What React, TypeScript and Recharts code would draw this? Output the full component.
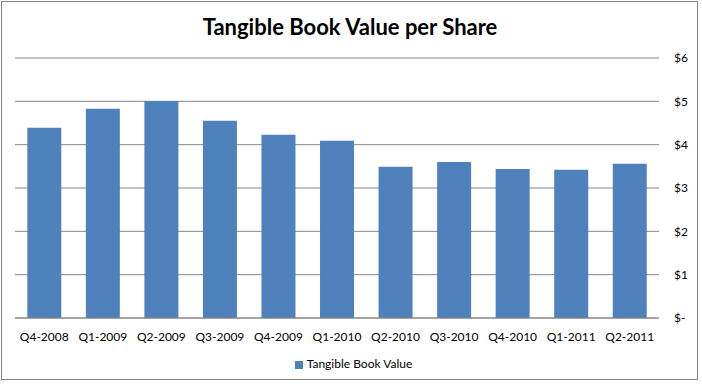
import { Bar, BarChart, CartesianGrid, Legend, XAxis, YAxis } from "recharts";

const quarters = ["Q4-2008", "Q1-2009", "Q2-2009", "Q3-2009", "Q4-2009", "Q1-2010", "Q2-2010", "Q3-2010", "Q4-2010", "Q1-2011", "Q2-2011"];
const tangibleBookValue = [4.39, 4.83, 5.01, 4.55, 4.23, 4.09, 3.49, 3.6, 3.44, 3.42, 3.56];
const yTicks = [0, 1, 2, 3, 4, 5, 6];

const FONT = "Lato, 'Liberation Sans', sans-serif";

export default function App() {
  const data = quarters.map((q, i) => ({ quarter: q, value: tangibleBookValue[i] }));

  return (
    <div style={{ position: "fixed", left: 0, top: 0, width: 702, height: 387, background: "#fff", fontFamily: FONT }}>
      {/* chart frame like the Excel object border */}
      <div style={{ position: "absolute", left: 1, top: 1, width: 697, height: 379, border: "1px solid #868686", boxSizing: "border-box" }} />
      <div style={{ position: "absolute", left: 0, top: 13, width: 700, textAlign: "center", fontSize: 22, fontWeight: 700, color: "#000" }}>
        Tangible Book Value per Share
      </div>
      <BarChart
        width={702}
        height={387}
        data={data}
        margin={{ top: 58, right: 0, left: 15, bottom: 0 }}
        barCategoryGap="21%"
        style={{ position: "absolute", left: 0, top: 0 }}
      >
        <CartesianGrid vertical={false} stroke="#868686" strokeWidth={1} />
        <XAxis
          dataKey="quarter"
          height={30}
          axisLine={{ stroke: "#868686" }}
          tickLine={false}
          tick={{ fill: "#000", fontSize: 12, fontFamily: FONT }}
          interval={0}
          dy={6}
        />
        <YAxis
          orientation="right"
          width={43}
          domain={[0, 6]}
          ticks={yTicks}
          axisLine={false}
          tickLine={false}
          tick={{ fill: "#000", fontSize: 12, fontFamily: FONT, textAnchor: "start" }}
          dx={7}
          tickFormatter={(v: number) => (v === 0 ? "$-" : `$${v}`)}
        />
        <Legend
          verticalAlign="bottom"
          iconType="square"
          iconSize={8}
          wrapperStyle={{ height: 39, paddingTop: 8, boxSizing: "border-box", fontSize: 12, fontFamily: FONT, color: "#000" }}
          formatter={(v: string) => <span style={{ color: "#000" }}>{v}</span>}
        />
        <Bar dataKey="value" name="Tangible Book Value" fill="#4F81BD" isAnimationActive={false} />
      </BarChart>
    </div>
  );
}
